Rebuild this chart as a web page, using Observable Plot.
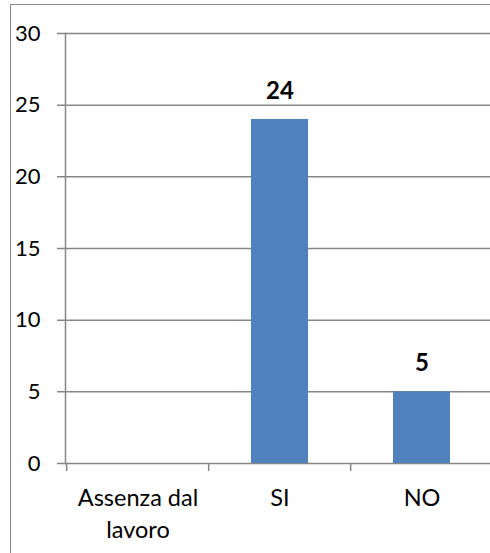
<!DOCTYPE html>
<html>
<head>
<meta charset="utf-8">
<script src="https://cdn.jsdelivr.net/npm/d3@7"></script>
<script src="https://cdn.jsdelivr.net/npm/@observablehq/plot@0.6"></script>
<style>
  html, body { margin: 0; padding: 0; background: #fff; overflow: hidden; }
  #wrap { position: relative; width: 490px; height: 553px; overflow: hidden; }
  #border { position: absolute; left: 10px; top: 4px; width: 600px; height: 700px;
            border-left: 1.5px solid #8a8a8a; border-top: 1.5px solid #8a8a8a; pointer-events: none; }
  #chart svg { display: block; }
</style>
</head>
<body>
<div id="wrap"><div id="chart"></div><div id="border"></div></div>
<script>
const categories = ["Assenza dal lavoro", "SI", "NO"];
const xLabels = ["Assenza dal\nlavoro", "SI", "NO"];
const values = [null, 24, 5];
const yTicks = [0, 5, 10, 15, 20, 25, 30];

const data = categories.map((c, i) => ({category: c, value: values[i]}));
const labelOf = new Map(categories.map((c, i) => [c, xLabels[i]]));

const gray = "#868686";
const xRange = [65, 493];
const step = (xRange[1] - xRange[0]) / categories.length;

const chart = Plot.plot({
  width: 490,
  height: 553,
  marginLeft: 65,
  marginRight: 0,
  marginTop: 33,
  marginBottom: 90,
  style: {fontFamily: "Lato, sans-serif", fontSize: "22px", color: "#000", background: "#fff"},
  x: {domain: categories, range: xRange, paddingInner: 0.6, paddingOuter: 0.3, axis: null},
  y: {domain: [0, 30], axis: null},
  marks: [
    Plot.ruleY(yTicks, {stroke: gray, strokeWidth: 1.5, strokeOpacity: 1, insetLeft: -8}),
    Plot.frame({anchor: "left", stroke: gray, strokeWidth: 1.5}),
    Plot.axisY(yTicks, {tickSize: 0, tickPadding: 25, fontSize: 22, fill: "#000", anchor: "left", label: null}),
    Plot.ruleX(categories, {x: d => d, y1: 0, y2: 0, insetBottom: -8, dx: -step / 2, stroke: gray, strokeWidth: 1.5}),
    Plot.barY(data.filter(d => d.value != null), {x: "category", y: "value", fill: "#4f81bd"}),
    Plot.text(data.filter(d => d.value != null), {x: "category", y: "value", text: d => String(d.value),
      fontWeight: "bold", fontSize: 24, lineAnchor: "bottom", dy: -21, fill: "#000"}),
    Plot.axisX({tickSize: 0, tickPadding: 20, tickFormat: d => labelOf.get(d), fontSize: 23.5,
      lineHeight: 1.36, fill: "#000", label: null})
  ]
});
document.getElementById("chart").appendChild(chart);
</script>
</body>
</html>
